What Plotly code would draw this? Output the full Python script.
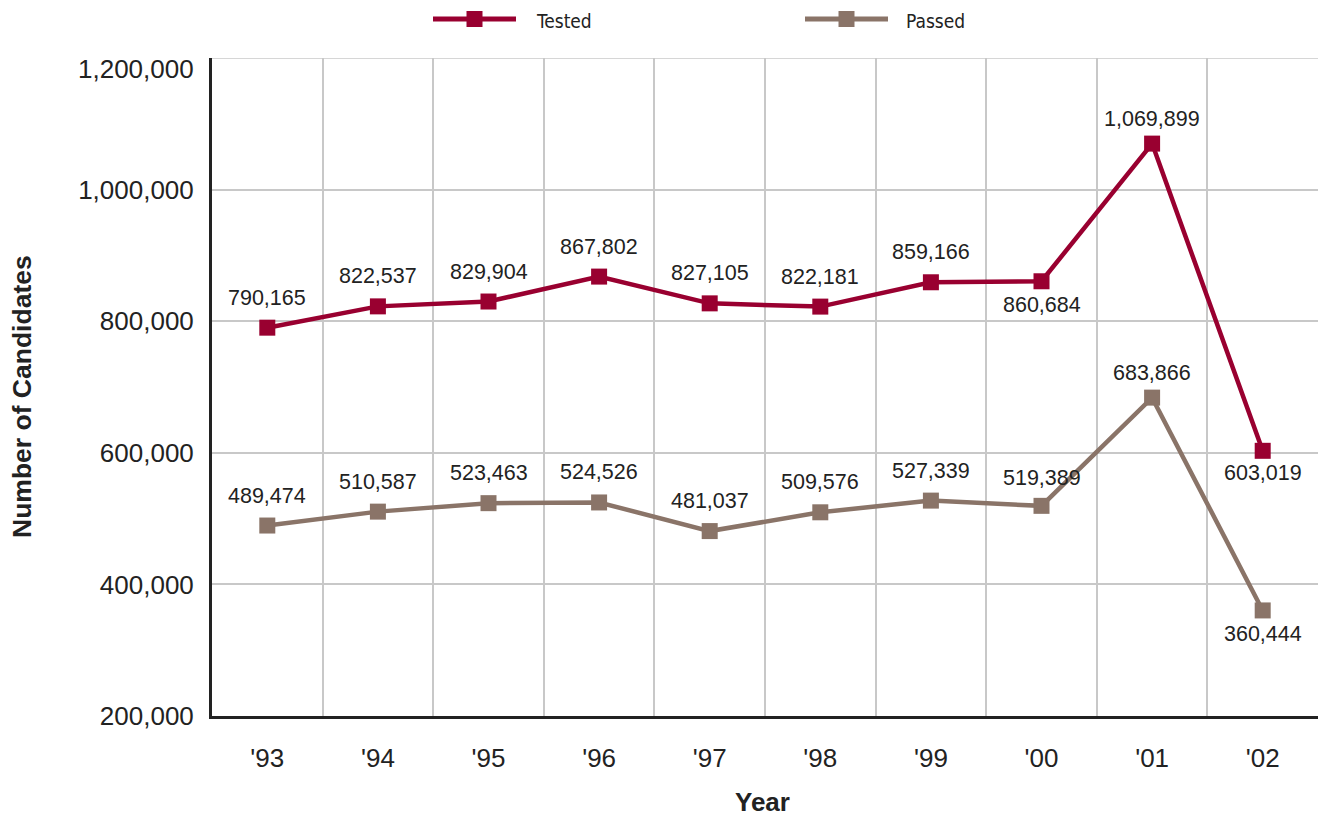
import plotly.graph_objects as go

# Candidate counts by exam year
years = ["'93", "'94", "'95", "'96", "'97", "'98", "'99", "'00", "'01", "'02"]
tested = [790165, 822537, 829904, 867802, 827105, 822181, 859166, 860684, 1069899, 603019]
passed = [489474, 510587, 523463, 524526, 481037, 509576, 527339, 519389, 683866, 360444]

y_ticks = [200000, 400000, 600000, 800000, 1000000, 1200000]

# Pixel offset of each value label from its marker (negative = below)
tested_label_shift = [30, 30, 30, 30, 30, 30, 30, -24, 25, -22]
passed_label_shift = [30, 30, 30, 30, 30, 30, 30, 28, 25, -24]

TESTED_COLOR = "#990030"
PASSED_COLOR = "#8a7468"
TEXT_COLOR = "#222222"
FONT = "Liberation Sans, Arial, sans-serif"
NARROW = "DejaVu Sans Condensed, Liberation Sans Narrow, Arial Narrow, sans-serif"

fig = go.Figure()

for name, vals, color in [("Tested", tested, TESTED_COLOR), ("Passed", passed, PASSED_COLOR)]:
    fig.add_trace(go.Scatter(
        x=years, y=vals, name=name, mode="lines+markers",
        line=dict(color=color, width=4.5),
        marker=dict(symbol="square", size=16, color=color),
        showlegend=False, hoverinfo="x+y",
    ))

annotations = []
for vals, shifts in [(tested, tested_label_shift), (passed, passed_label_shift)]:
    for yr, v, s in zip(years, vals, shifts):
        annotations.append(dict(
            x=yr, y=v, xref="x", yref="y", text=f"{v:,}", showarrow=False,
            yshift=s, yanchor="middle", xanchor="center",
            font=dict(family=FONT, size=21.5, color=TEXT_COLOR),
        ))

# The top tick label sits a little below its gridline
annotations.append(dict(
    x=0, y=y_ticks[-1], xref="paper", yref="y", text=f"{y_ticks[-1]:,}",
    showarrow=False, xanchor="right", yanchor="middle", xshift=-16, yshift=-11,
    font=dict(family=FONT, size=26, color=TEXT_COLOR),
))

plot_l, plot_r, plot_t, plot_b = 212, 1318, 58, 716
W, H = plot_r - plot_l, plot_b - plot_t

def px_x(p):
    return (p - plot_l) / W

def px_y(p):
    return (plot_b - p) / H

# Axis titles
annotations.append(dict(x=px_x(762), y=px_y(819), xref="paper", yref="paper",
                        text="<b>Year</b>", showarrow=False, xanchor="center", yanchor="bottom",
                        font=dict(family=FONT, size=26, color=TEXT_COLOR)))
annotations.append(dict(x=px_x(22), y=px_y(397), xref="paper", yref="paper",
                        text="<b>Number of Candidates</b>", showarrow=False, textangle=-90,
                        xanchor="center", yanchor="middle",
                        font=dict(family=FONT, size=26.5, color=TEXT_COLOR)))

# Legend drawn across the top
shapes = []
legend_items = [("Tested", TESTED_COLOR, 433, 516, 534), ("Passed", PASSED_COLOR, 805, 888, 904)]
for label, color, x0, x1, tx in legend_items:
    yy = px_y(19)
    shapes.append(dict(type="line", xref="paper", yref="paper",
                       x0=px_x(x0), x1=px_x(x1), y0=yy, y1=yy,
                       line=dict(color=color, width=5)))
    shapes.append(dict(type="rect", xref="paper", yref="paper",
                       xsizemode="pixel", ysizemode="pixel",
                       xanchor=px_x((x0 + x1) / 2), yanchor=yy,
                       x0=-8, x1=8, y0=-8, y1=8,
                       fillcolor=color, line=dict(width=0)))
    annotations.append(dict(x=px_x(tx), y=px_y(21), xref="paper", yref="paper",
                            text=label, showarrow=False, xanchor="left", yanchor="middle",
                            font=dict(family=NARROW, size=19, color=TEXT_COLOR)))

fig.update_layout(
    width=1319, height=820,
    margin=dict(l=plot_l, r=1319 - plot_r, t=plot_t, b=820 - plot_b),
    paper_bgcolor="white", plot_bgcolor="white",
    font=dict(family=FONT, color=TEXT_COLOR),
    annotations=annotations, shapes=shapes,
    xaxis=dict(
        type="category", range=[-0.5, 9.5], tickson="boundaries",
        showgrid=True, gridcolor="#c8c8c8", gridwidth=1.5,
        showline=True, linecolor="#222222", linewidth=3,
        ticks="", tickfont=dict(size=26, family=FONT, color=TEXT_COLOR),
        ticklabelstandoff=17, automargin=False,
    ),
    yaxis=dict(
        range=[200000, 1200000], tickvals=y_ticks[:-1],
        ticktext=[f"{v:,}" for v in y_ticks[:-1]],
        showgrid=True, gridcolor="#c8c8c8", gridwidth=1.5,
        showline=True, linecolor="#222222", linewidth=3,
        ticks="", ticklabelstandoff=10, automargin=False,
        tickfont=dict(size=26, family=FONT, color=TEXT_COLOR),
        zeroline=False,
    ),
)

# Horizontal gridline at the top of the value range
fig.add_hline(y=y_ticks[-1], line=dict(color="#c8c8c8", width=1.5), layer="below")

fig.write_html("out.html")
